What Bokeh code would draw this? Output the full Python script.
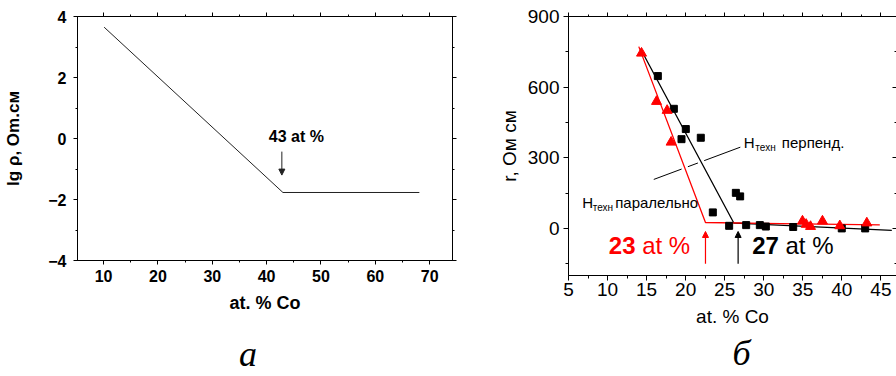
from bokeh.plotting import figure
from bokeh.models import Range1d, LinearAxis, SingleIntervalTicker, FixedTicker, Arrow, NormalHead
from bokeh.core.properties import value
from bokeh.core.templates import get_env
from bokeh.embed import file_html
from bokeh.resources import INLINE

SANS = "Liberation Sans"
SERIF = "Liberation Serif"

# ---------------- data: panel a ----------------
a_line_x = [10.1, 43.0, 68.1]
a_line_y = [3.65, -1.77, -1.77]
a_kink_x = 42.8

# ---------------- data: panel б ----------------
sq_x = [16.44, 18.49, 19.47, 20.02, 21.94, 23.48, 25.57, 26.43, 26.98, 27.75, 29.5, 30.27, 33.77, 39.99, 42.99]
sq_y = [647, 508, 379, 422, 385, 68, 11, 151, 136, 14, 14, 8, 6, 0, 0]
tri_x = [14.35, 16.27, 17.63, 18.14, 34.96, 35.43, 35.99, 37.52, 39.74, 43.2]
tri_y = [744, 539, 501, 366, 31, 17, 8, 31, 11, 23]
black_fit_x = [14.22, 26.17, 46.4]
black_fit_y = [763, 23, -8]
red_fit_x = [14.0, 22.54, 44.86]
red_fit_y = [772, 25, 15]
red_thr = 22.54
black_thr = 26.72

# leader line of the "H техн перпенд." label (start, end)
leader_x = [15.92, 27.0]
leader_y = [208, 345]

NB = "\u00a0"


def style_axis(ax, size, bold, out_major, out_minor, in_major=0, in_minor=0, labels=True):
    ax.axis_line_color = "black"
    ax.axis_line_width = 1
    ax.major_tick_line_color = "black"
    ax.minor_tick_line_color = "black"
    ax.major_tick_out = out_major
    ax.minor_tick_out = out_minor
    ax.major_tick_in = in_major
    ax.minor_tick_in = in_minor
    ax.major_label_text_font = SANS
    ax.major_label_text_font_style = "bold" if bold else "normal"
    if labels:
        ax.major_label_text_font_size = size
        ax.major_label_text_color = "black"
    else:
        ax.major_label_text_font_size = "1px"
        ax.major_label_text_color = None
        ax.major_label_standoff = 0
    ax.axis_label_text_font = SANS
    ax.axis_label_text_color = "black"
    ax.axis_label_text_font_style = "bold" if bold else "normal"


def caption_axis(p, text, standoff, size):
    ax = LinearAxis(ticker=FixedTicker(ticks=[]), axis_line_color=None,
                    major_tick_line_color=None, minor_tick_line_color=None,
                    major_tick_out=0, minor_tick_out=0, major_tick_in=0, minor_tick_in=0,
                    major_label_text_color=None, major_label_text_font_size="1px",
                    major_label_standoff=0,
                    axis_label=text, axis_label_standoff=standoff,
                    axis_label_text_font=SERIF, axis_label_text_font_style="italic",
                    axis_label_text_font_size=size, axis_label_text_color="black")
    p.add_layout(ax, "below")


# ================= panel a =================
p1 = figure(width=460, height=376, x_range=Range1d(5.2, 74.2), y_range=Range1d(-4, 4),
            output_backend="svg", toolbar_location=None,
            min_border_left=77, min_border_right=8, min_border_top=16, min_border_bottom=115)
p1.xgrid.visible = False
p1.ygrid.visible = False
p1.outline_line_color = "black"
p1.background_fill_color = "white"
p1.border_fill_color = "white"

p1.xaxis.ticker = SingleIntervalTicker(interval=10, num_minor_ticks=2)
p1.yaxis.ticker = SingleIntervalTicker(interval=2, num_minor_ticks=2)
style_axis(p1.xaxis[0], "16px", True, 4, 2)
style_axis(p1.yaxis[0], "16px", True, 4, 2)
p1.xaxis.major_label_standoff = 5
p1.yaxis.major_label_standoff = 7
p1.xaxis.axis_label = "at. % Co"
p1.xaxis.axis_label_text_font_size = "18px"
p1.xaxis.axis_label_standoff = 8
p1.yaxis.axis_label = "lg ρ, Om.cм"
p1.yaxis.axis_label_text_font_size = "17px"
p1.yaxis.axis_label_standoff = 22

top1 = LinearAxis(ticker=SingleIntervalTicker(interval=10, num_minor_ticks=2))
style_axis(top1, "1px", True, 4, 2, labels=False)
p1.add_layout(top1, "above")
right1 = LinearAxis(ticker=SingleIntervalTicker(interval=2, num_minor_ticks=2))
style_axis(right1, "1px", True, 4, 2, labels=False)
p1.add_layout(right1, "right")

p1.line(a_line_x, a_line_y, line_color="#222222", line_width=1)
p1.add_layout(Arrow(end=NormalHead(size=6, fill_color="#222222", line_color="#222222"),
                    x_start=a_kink_x, y_start=-0.43, x_end=a_kink_x, y_end=-1.2,
                    line_color="#222222", line_width=1))
p1.text(x=[40.4], y=[0.08], text=["43 at %"], text_font=value(SANS), text_font_size="16px",
        text_font_style="bold", text_color="black", text_align="left", text_baseline="middle")
caption_axis(p1, "а" + NB * 3 + "\u2009", 18, "36px")

# ================= panel б =================
p2 = figure(width=436, height=376, x_range=Range1d(5, 47), y_range=Range1d(-200, 900),
            output_backend="svg", toolbar_location=None,
            min_border_left=108, min_border_right=0, min_border_top=16, min_border_bottom=101)
p2.xgrid.visible = False
p2.ygrid.visible = False
p2.outline_line_color = None
p2.background_fill_color = "white"
p2.border_fill_color = "white"

p2.xaxis.ticker = SingleIntervalTicker(interval=5, num_minor_ticks=2)
p2.yaxis.ticker = SingleIntervalTicker(interval=300, num_minor_ticks=2)
style_axis(p2.xaxis[0], "19px", False, 5, 3)
style_axis(p2.yaxis[0], "19px", False, 5, 3)
p2.xaxis.major_label_standoff = 2
p2.yaxis.major_label_standoff = 4
p2.xaxis.axis_label = "at. % Co"
p2.xaxis.axis_label_text_font_size = "19px"
p2.xaxis.axis_label_standoff = 7
p2.yaxis.axis_label = "r, Ом см"
p2.yaxis.axis_label_text_font_size = "19px"
p2.yaxis.axis_label_standoff = 5

top2 = LinearAxis(ticker=SingleIntervalTicker(interval=5, num_minor_ticks=2))
style_axis(top2, "1px", False, 4, 2, labels=False)
p2.add_layout(top2, "above")
right2 = LinearAxis(ticker=SingleIntervalTicker(interval=300, num_minor_ticks=2))
style_axis(right2, "1px", False, 0, 0, in_major=4, in_minor=2, labels=False)
right2.axis_line_color = None
p2.add_layout(right2, "right")


# leader line, interrupted where it crosses the two fit lines
def cross_x(ax0, ay0, ax1, ay1, bx0, by0, bx1, by1):
    ka = (ay1 - ay0) / (ax1 - ax0)
    kb = (by1 - by0) / (bx1 - bx0)
    return (by0 - ay0 + ka * ax0 - kb * bx0) / (ka - kb)


def leader_y_at(x):
    return leader_y[0] + (x - leader_x[0]) * (leader_y[1] - leader_y[0]) / (leader_x[1] - leader_x[0])


cuts = sorted([
    cross_x(leader_x[0], leader_y[0], leader_x[1], leader_y[1],
            red_fit_x[0], red_fit_y[0], red_fit_x[1], red_fit_y[1]),
    cross_x(leader_x[0], leader_y[0], leader_x[1], leader_y[1],
            black_fit_x[0], black_fit_y[0], black_fit_x[1], black_fit_y[1]),
])
gap = 0.4
seg_bounds = [leader_x[0]]
for c in cuts:
    seg_bounds += [c - gap, c + gap]
seg_bounds.append(leader_x[1])
xs = [[seg_bounds[i], seg_bounds[i + 1]] for i in range(0, len(seg_bounds), 2)]
ys = [[leader_y_at(a), leader_y_at(b)] for a, b in xs]
p2.multi_line(xs, ys, line_color="black", line_width=1)

p2.line(black_fit_x, black_fit_y, line_color="black", line_width=1.3)
p2.line(red_fit_x, red_fit_y, line_color="red", line_width=1.3)
p2.scatter(sq_x, sq_y, marker="square", size=7, fill_color="black", line_color="black")
p2.scatter(tri_x, tri_y, marker="triangle", size=10, fill_color="red", line_color="red")

p2.add_layout(Arrow(end=NormalHead(size=6, fill_color="red", line_color="red"),
                    x_start=red_thr, y_start=-150, x_end=red_thr, y_end=-13,
                    line_color="red", line_width=1.2))
p2.add_layout(Arrow(end=NormalHead(size=6, fill_color="black", line_color="black"),
                    x_start=black_thr, y_start=-150, x_end=black_thr, y_end=-13,
                    line_color="black", line_width=1.2))


def txt(p, x, y, s, size, color="black", bold=False, xo=0, yo=0):
    p.text(x=[x], y=[y], text=[s], text_font=value(SANS), text_font_size=size,
           text_font_style="bold" if bold else "normal", text_color=color,
           text_align="left", text_baseline="middle", x_offset=xo, y_offset=yo)


txt(p2, 10.16, -72, "23", "24px", "red", True)
txt(p2, 14.43, -72, "at %", "24px", "red", False)
txt(p2, 28.52, -72, "27", "24px", "black", True)
txt(p2, 32.78, -72, "at %", "24px", "black", False)

txt(p2, 27.45, 366, "H", "15px")
txt(p2, 27.45, 366, "техн", "10px", xo=11.5, yo=5)
txt(p2, 27.45, 366, "перпенд.", "15px", xo=38)
txt(p2, 6.75, 112, "H", "15px")
txt(p2, 6.75, 112, "техн", "10px", xo=10.5, yo=5)
txt(p2, 6.75, 112, "паралельно", "15px", xo=33)

caption_axis(p2, NB * 2 + "б", 3, "36px")

# two independent roots placed side by side (no frame alignment between panels)
TEMPLATE = get_env().from_string(
    "{% extends base %}\n"
    "{% block postamble %}<style>"
    "html, body { margin: 0; padding: 0; }"
    "body { display: flex !important; flex-direction: row; align-items: flex-start; }"
    "body > div > * { flex-shrink: 0; }"
    "</style>{% endblock %}"
)

open("out.html", "w").write(file_html([p1, p2], INLINE, template=TEMPLATE))
